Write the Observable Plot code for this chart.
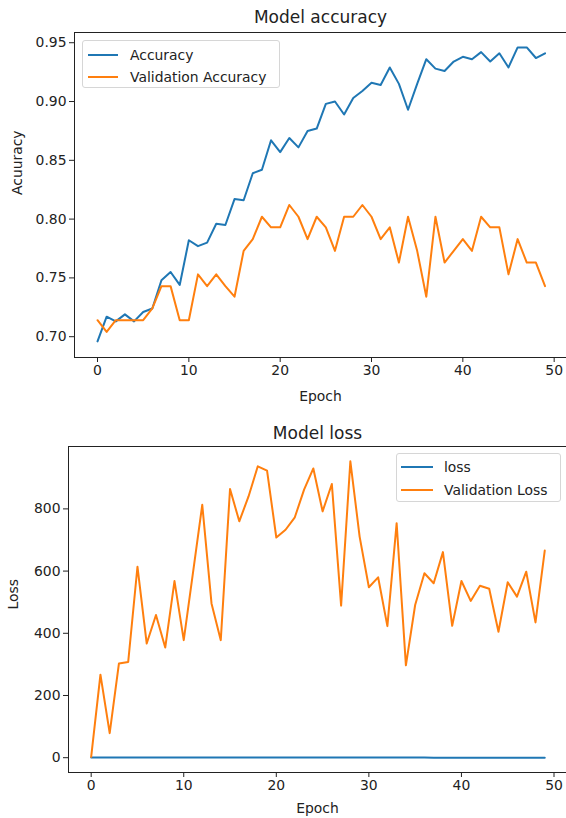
<!DOCTYPE html>
<html>
<head>
<meta charset="utf-8">
<script src="https://cdn.jsdelivr.net/npm/d3@7"></script>
<script src="https://cdn.jsdelivr.net/npm/@observablehq/plot@0.6"></script>
<style>
  html, body { margin: 0; padding: 0; background: #fff; }
  #wrap { position: relative; width: 566px; height: 818px; font-family: "DejaVu Sans", sans-serif; }
  #wrap svg { display: block; }
  .legend { position: absolute; background: rgba(255,255,255,0.85); border: 1px solid #d6d6d6; border-radius: 3px; box-sizing: border-box; }
  .legend .row { position: absolute; left: 0; height: 0; }
  .legend .sw { position: absolute; height: 2px; margin-top: -1px; }
  .legend .lb { position: absolute; font-size: 13.9px; color: #222; white-space: nowrap; line-height: 16px; margin-top: -8px; }
</style>
</head>
<body>
<div id="wrap"></div>
<script>
const epochs = d3.range(50);
const accuracy = [0.696,0.717,0.713,0.719,0.713,0.721,0.724,0.748,0.755,0.744,0.782,0.777,0.780,0.796,0.795,0.817,0.816,0.839,0.842,0.867,0.857,0.869,0.861,0.875,0.877,0.898,0.900,0.889,0.903,0.909,0.916,0.914,0.929,0.915,0.893,0.915,0.936,0.928,0.926,0.934,0.938,0.936,0.942,0.934,0.941,0.929,0.946,0.946,0.937,0.941];
const valAccuracy = [0.714,0.704,0.714,0.714,0.714,0.714,0.724,0.743,0.743,0.714,0.714,0.753,0.743,0.753,0.743,0.734,0.773,0.783,0.802,0.793,0.793,0.812,0.802,0.783,0.802,0.793,0.773,0.802,0.802,0.812,0.802,0.783,0.793,0.763,0.802,0.773,0.734,0.802,0.763,0.773,0.783,0.773,0.802,0.793,0.793,0.753,0.783,0.763,0.763,0.743];
const loss = [0.62,0.59,0.58,0.57,0.57,0.56,0.55,0.53,0.52,0.52,0.50,0.49,0.48,0.46,0.45,0.43,0.42,0.41,0.39,0.38,0.37,0.36,0.35,0.34,0.33,0.31,0.30,0.30,0.29,0.28,0.27,0.26,0.25,0.25,0.26,0.24,0.23,0.22,0.22,0.21,0.20,0.20,0.19,0.19,0.18,0.19,0.17,0.16,0.17,0.16];
const valLoss = [3,267,79,303,308,614,367,459,354,568,378,595,813,496,378,864,760,840,937,923,708,733,773,862,930,792,880,489,953,711,548,580,423,754,297,491,593,561,661,424,568,504,553,543,405,564,518,598,435,666];
const xTicks = [0,10,20,30,40,50];
const accTicks = [0.70,0.75,0.80,0.85,0.90,0.95];
const lossTicks = [0,200,400,600,800];
const BLUE = "#1f77b4", ORANGE = "#ff7f0e";

const accData = epochs.map((e,i) => ({epoch: e, acc: accuracy[i], val: valAccuracy[i]}));
const lossData = epochs.map((e,i) => ({epoch: e, loss: loss[i], val: valLoss[i]}));

const chartStyle = {fontFamily: "DejaVu Sans", fontSize: "13.9px", color: "#222", background: "white", overflow: "visible"};

const accChart = Plot.plot({
  width: 566, height: 412,
  marginLeft: 74, marginRight: 0, marginTop: 32, marginBottom: 55,
  style: chartStyle,
  x: {domain: [-2.52, 51.35]},
  y: {domain: [0.6823, 0.9587]},
  marks: [
    Plot.line(accData, {x: "epoch", y: "acc", stroke: BLUE, strokeWidth: 2}),
    Plot.line(accData, {x: "epoch", y: "val", stroke: ORANGE, strokeWidth: 2}),
    Plot.frame({stroke: "#222", strokeWidth: 1}),
    Plot.axisX({ticks: xTicks, tickSize: 5, tickPadding: 3, label: null, fontSize: 13.9, stroke: "#222"}),
    Plot.axisY({ticks: accTicks, tickFormat: ".2f", tickSize: 5, tickPadding: 3, label: null, fontSize: 13.9, stroke: "#222"}),
    Plot.text(["Model accuracy"], {frameAnchor: "top", dy: -15, fontSize: 17, lineAnchor: "middle", fill: "#222"}),
    Plot.text(["Epoch"], {frameAnchor: "bottom", dy: 39, fontSize: 13.9, lineAnchor: "middle", fill: "#222"}),
    Plot.text(["Acuuracy"], {frameAnchor: "left", dx: -57, rotate: -90, fontSize: 13.9, lineAnchor: "middle", fill: "#222"})
  ]
});

const lossChart = Plot.plot({
  width: 566, height: 406,
  marginLeft: 68, marginRight: 0, marginTop: 34, marginBottom: 46,
  style: chartStyle,
  x: {domain: [-2.45, 51.35]},
  y: {domain: [-47.6, 1000.6]},
  marks: [
    Plot.line(lossData, {x: "epoch", y: "loss", stroke: BLUE, strokeWidth: 2}),
    Plot.line(lossData, {x: "epoch", y: "val", stroke: ORANGE, strokeWidth: 2}),
    Plot.frame({stroke: "#222", strokeWidth: 1}),
    Plot.axisX({ticks: xTicks, tickSize: 5, tickPadding: 3, label: null, fontSize: 13.9, stroke: "#222"}),
    Plot.axisY({ticks: lossTicks, tickFormat: "d", tickSize: 5, tickPadding: 3, label: null, fontSize: 13.9, stroke: "#222"}),
    Plot.text(["Model loss"], {frameAnchor: "top", dy: -13, fontSize: 17, lineAnchor: "middle", fill: "#222"}),
    Plot.text(["Epoch"], {frameAnchor: "bottom", dy: 36, fontSize: 13.9, lineAnchor: "middle", fill: "#222"}),
    Plot.text(["Loss"], {frameAnchor: "left", dx: -55, rotate: -90, fontSize: 13.9, lineAnchor: "middle", fill: "#222"})
  ]
});

const wrap = document.getElementById("wrap");
wrap.appendChild(accChart);
wrap.appendChild(lossChart);

function legend(box, items) {
  const d = document.createElement("div");
  d.className = "legend";
  Object.assign(d.style, {left: box.left + "px", top: box.top + "px", width: box.width + "px", height: box.height + "px"});
  items.forEach((it, i) => {
    const row = document.createElement("div");
    row.className = "row";
    row.style.top = (box.rowY[i] - box.top) + "px";
    const sw = document.createElement("div");
    sw.className = "sw";
    Object.assign(sw.style, {left: (box.swX0 - box.left) + "px", width: (box.swX1 - box.swX0) + "px", background: it.color});
    const lb = document.createElement("div");
    lb.className = "lb";
    lb.style.left = (box.textX - box.left) + "px";
    lb.textContent = it.label;
    row.appendChild(sw); row.appendChild(lb);
    d.appendChild(row);
  });
  wrap.appendChild(d);
}

legend({left: 82, top: 40, width: 198, height: 48, rowY: [53.5, 75.5], swX0: 87, swX1: 117, textX: 129},
  [{label: "Accuracy", color: BLUE}, {label: "Validation Accuracy", color: ORANGE}]);
legend({left: 396, top: 453, width: 165, height: 49, rowY: [466, 489], swX0: 400, swX1: 432, textX: 443},
  [{label: "loss", color: BLUE}, {label: "Validation Loss", color: ORANGE}]);
</script>
</body>
</html>
